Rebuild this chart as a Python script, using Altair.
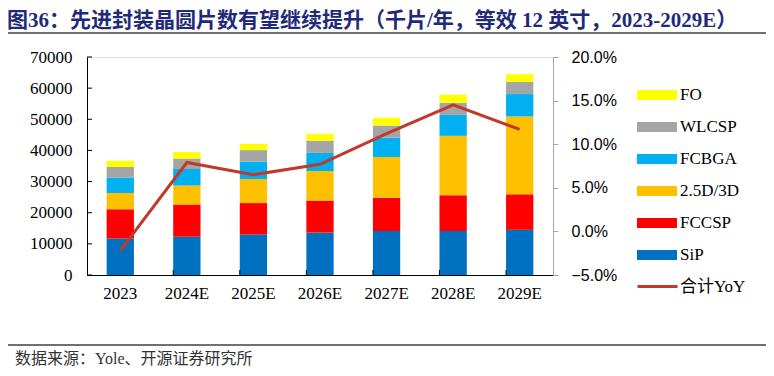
import altair as alt
import pandas as pd

years = ["2023", "2024E", "2025E", "2026E", "2027E", "2028E", "2029E"]
sip = [11700, 12300, 13000, 13600, 14100, 14100, 14500]
fccsp = [9400, 10300, 10100, 10300, 10700, 11500, 11400]
d25 = [5200, 6100, 7700, 9500, 13100, 19100, 25000]
fcbga = [5000, 5300, 5600, 5800, 6200, 6700, 7200]
wlcsp = [3400, 3400, 3700, 3900, 3900, 3900, 3900]
fo = [2000, 2100, 2000, 2200, 2500, 2600, 2500]
yoy = [-0.022, 0.079, 0.065, 0.077, 0.112, 0.145, 0.117]

series_names = ["SiP", "FCCSP", "2.5D/3D", "FCBGA", "WLCSP", "FO"]
series_colors = ["#0070C0", "#FF0000", "#FFC000", "#00B0F0", "#A5A5A5", "#FFFF00"]
line_name = "合计YoY"
line_color = "#C0392B"
left_ticks = [0, 10000, 20000, 30000, 40000, 50000, 60000, 70000]
right_ticks = [-0.05, 0.0, 0.05, 0.10, 0.15, 0.20]

title_text = "图36：先进封装晶圆片数有望继续提升（千片/年，等效 12 英寸，2023-2029E）"
footer_text = "数据来源：Yole、开源证券研究所"

rows = []
for i, yr in enumerate(years):
    for k, (name, vals) in enumerate(zip(series_names, [sip, fccsp, d25, fcbga, wlcsp, fo])):
        rows.append({"year": yr, "series": name, "value": vals[i], "order": k})
bars_df = pd.DataFrame(rows)
line_df = pd.DataFrame({"year": years, "yoy": yoy, "name": [line_name] * len(years)})
lt_df = pd.DataFrame({"value": left_ticks})
xt_df = pd.DataFrame({"year": years[1:]})
dummy = pd.DataFrame({"a": [0]})

W, H = 466, 218
SERIF = "Liberation Serif, Noto Sans CJK SC"
xscale = alt.Scale(domain=years, paddingInner=0.59, paddingOuter=0.295)
x_axis = alt.Axis(title=None, labelAngle=0, labelFont=SERIF, labelFontSize=17,
                  labelColor="black", domainColor="black", domainWidth=1,
                  ticks=False, labelPadding=10)
lscale = alt.Scale(domain=[0, 70000], nice=False, zero=True)
y_axis = alt.Axis(title=None, values=left_ticks, ticks=False, grid=False, format="d",
                  labelFont=SERIF, labelFontSize=17, labelColor="black",
                  labelPadding=15, domainColor="black")

bars = alt.Chart(bars_df).mark_bar().encode(
    x=alt.X("year:N", scale=xscale, axis=x_axis),
    y=alt.Y("value:Q", stack="zero", scale=lscale, axis=y_axis),
    color=alt.Color("series:N",
                    scale=alt.Scale(domain=series_names[::-1], range=series_colors[::-1]),
                    legend=alt.Legend(title=None, orient="none", legendX=560, legendY=28,
                                      symbolType="M-2,-0.5H2V0.5H-2Z", symbolSize=400,
                                      symbolStrokeWidth=0, labelFont=SERIF, labelFontSize=17,
                                      labelColor="black", rowPadding=14, labelOffset=13)),
    order=alt.Order("order:Q", sort="ascending"),
)

lticks = alt.Chart(lt_df).mark_rule(color="black", strokeWidth=1).encode(
    y=alt.Y("value:Q", scale=lscale, axis=y_axis),
    x=alt.value(0), x2=alt.value(5),
)

xticks = alt.Chart(xt_df).mark_rule(color="black", strokeWidth=1).encode(
    x=alt.X("year:N", scale=xscale, bandPosition=0, axis=x_axis),
    y=alt.value(H - 5), y2=alt.value(H),
)

left = alt.layer(bars, lticks, xticks)

line = alt.Chart(line_df).mark_line(strokeWidth=3).encode(
    x=alt.X("year:N", scale=xscale, axis=x_axis),
    y=alt.Y("yoy:Q", scale=alt.Scale(domain=[-0.05, 0.2], nice=False, zero=False),
            axis=alt.Axis(title=None, orient="right", values=right_ticks, format=".1%",
                          grid=False, labelFont="Liberation Sans", labelFontSize=16,
                          labelColor="black", domainColor="#A6A6A6", tickColor="#A6A6A6",
                          tickSize=5, labelPadding=13)),
    color=alt.Color("name:N", scale=alt.Scale(domain=[line_name], range=[line_color]),
                    legend=alt.Legend(title=None, orient="none", legendX=559, legendY=218,
                                      symbolType="M-2,0H2", symbolSize=400,
                                      symbolStrokeWidth=3, labelFont=SERIF, labelFontSize=17,
                                      labelColor="black", labelOffset=11)),
)

title = alt.Chart(dummy).mark_text(
    text=title_text, align="left", baseline="middle", font=SERIF,
    fontSize=21, fontWeight="bold", color="#1F2A7A",
).encode(x=alt.value(-80), y=alt.value(-36))

top_rule = alt.Chart(dummy).mark_rule(color="#404040", strokeWidth=1.5).encode(
    x=alt.value(-82), x2=alt.value(683), y=alt.value(-24))
bot_rule = alt.Chart(dummy).mark_rule(color="#404040", strokeWidth=1.5).encode(
    x=alt.value(-82), x2=alt.value(683), y=alt.value(288))
footer = alt.Chart(dummy).mark_text(
    text=footer_text, align="left", baseline="middle", font=SERIF,
    fontSize=16, color="#333333",
).encode(x=alt.value(-72), y=alt.value(302))

chart = alt.layer(left, line, title, top_rule, bot_rule, footer).resolve_scale(
    y="independent", color="independent"
).properties(
    width=W, height=H,
    padding={"left": 79, "top": 49, "right": 213, "bottom": 93},
    autosize=alt.AutoSizeParams(type="none"),
).configure_view(stroke=None).configure(background="white")

chart.save("out.html", embed_options={"renderer": "svg", "actions": False})
